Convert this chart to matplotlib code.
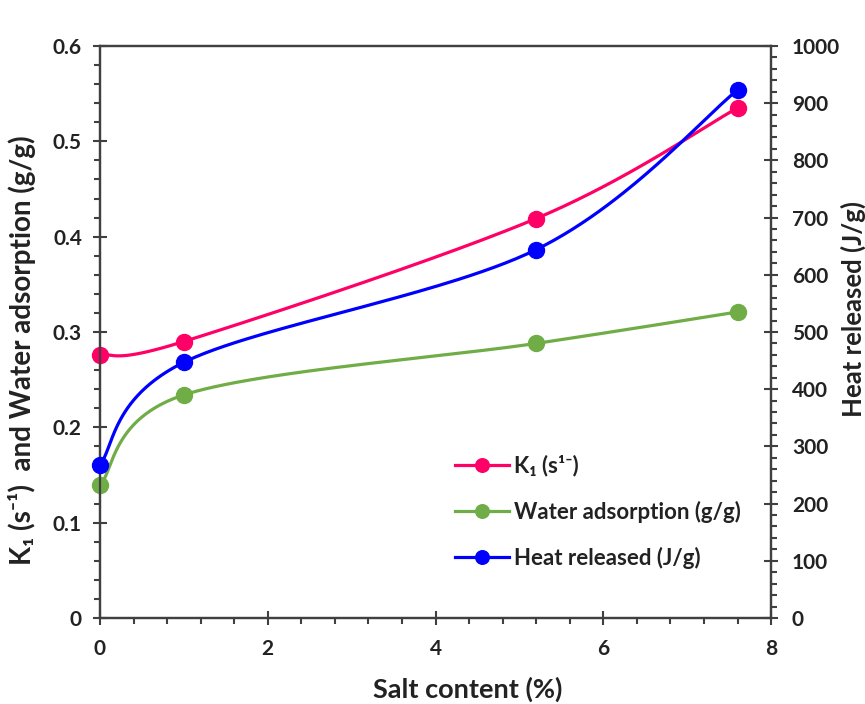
import numpy as np
import matplotlib
matplotlib.use('Agg')
import matplotlib.pyplot as plt
from matplotlib.ticker import MultipleLocator
from matplotlib.lines import Line2D

plt.rcParams['font.family'] = ['Lato', 'DejaVu Sans']
plt.rcParams['font.weight'] = 'bold'

# Data
salt_content = [0, 1, 5.2, 7.6]
k1_rate = [0.276, 0.290, 0.419, 0.535]
water_adsorption = [0.139, 0.234, 0.288, 0.321]
heat_released = [268, 447, 644, 923]

pink = '#FF0066'
green = '#70AD47'
blue = '#0000FF'
axis_col = '#404040'
text_col = '#222222'


# Smooth curve through points (Catmull-Rom as cubic Bezier segments)
def smooth(x, y, n=60):
    p = np.column_stack([x, y]).astype(float)
    p = np.vstack([p[0], p, p[-1]])
    out = []
    t = np.linspace(0, 1, n)[:, None]
    for i in range(1, len(p) - 2):
        p0, p1, p2, p3 = p[i - 1], p[i], p[i + 1], p[i + 2]
        c1 = p1 + (p2 - p0) / 6
        c2 = p2 - (p3 - p1) / 6
        seg = ((1 - t) ** 3 * p1 + 3 * (1 - t) ** 2 * t * c1
               + 3 * (1 - t) * t ** 2 * c2 + t ** 3 * p2)
        out.append(seg if i == 1 else seg[1:])
    out = np.vstack(out)
    return out[:, 0], out[:, 1]


fig = plt.figure(figsize=(8.65, 7.04), dpi=100)
ax = fig.add_axes([0.1156, 0.1222, 0.7758, 0.8125])
ax2 = ax.twinx()

lw = 2.3
ms = 11.5
for yv, col in [(k1_rate, pink), (water_adsorption, green)]:
    sx, sy = smooth(salt_content, yv)
    ax.plot(sx, sy, color=col, lw=lw, zorder=3)
    ax.plot(salt_content, yv, 'o', color=col, ms=ms, zorder=4, clip_on=False)

sx, sy = smooth(salt_content, heat_released)
ax2.plot(sx, sy, color=blue, lw=lw, zorder=3)
ax2.plot(salt_content, heat_released, 'o', color=blue, ms=ms, zorder=4, clip_on=False)

ax.set_xlim(0, 8)
ax.set_ylim(0, 0.6)
ax2.set_ylim(0, 1000)

ax.xaxis.set_major_locator(MultipleLocator(2))
ax.xaxis.set_minor_locator(MultipleLocator(0.4))
ax.yaxis.set_major_locator(MultipleLocator(0.1))
ax.yaxis.set_minor_locator(MultipleLocator(0.02))
ax2.yaxis.set_major_locator(MultipleLocator(100))
ax2.yaxis.set_minor_locator(MultipleLocator(20))
ax.yaxis.set_major_formatter(plt.FuncFormatter(lambda v, p: '0' if v == 0 else f'{v:.1f}'))

for a in (ax, ax2):
    for s in a.spines.values():
        s.set_color(axis_col)
        s.set_linewidth(1.6)
    a.tick_params(which='major', direction='inout', length=10, width=1.5,
                  color=axis_col, labelsize=15, labelcolor=text_col, pad=6)
    a.tick_params(which='minor', direction='out', length=4.5, width=1.5,
                  color=axis_col)

ax.tick_params(axis='x', which='major', pad=10)
ax.tick_params(axis='y', which='major', pad=8)
ax2.tick_params(axis='y', which='major', pad=10)

ax.set_xlabel('Salt content (%)', fontsize=19.5, fontweight='bold', color=text_col)
ax.xaxis.set_label_coords(0.548, -0.103)
ax.set_ylabel('K₁ (s⁻¹)  and Water adsorption (g/g)', fontsize=20, fontweight='bold',
              color=text_col)
ax.yaxis.set_label_coords(-0.095, 0.469)
ax2.set_ylabel('Heat released (J/g)', fontsize=18.5, fontweight='bold', color=text_col)
ax2.yaxis.set_label_coords(1.104, 0.54)

handles = [
    Line2D([], [], color=pink, lw=lw, marker='o', ms=ms * 0.85),
    Line2D([], [], color=green, lw=lw, marker='o', ms=ms * 0.85),
    Line2D([], [], color=blue, lw=lw, marker='o', ms=ms * 0.85),
]
labels = ['K₁ (s¹⁻)', 'Water adsorption (g/g)', 'Heat released (J/g)']
leg = ax.legend(handles, labels, loc='upper left',
                bbox_to_anchor=(455 / 865, 1 - 455 / 704),
                bbox_transform=fig.transFigure, borderaxespad=0, borderpad=0,
                frameon=False, fontsize=16, handlelength=2.45, handletextpad=0.2,
                labelspacing=1.09)
for t in leg.get_texts():
    t.set_color(text_col)

fig.savefig('out.png', dpi=100)
